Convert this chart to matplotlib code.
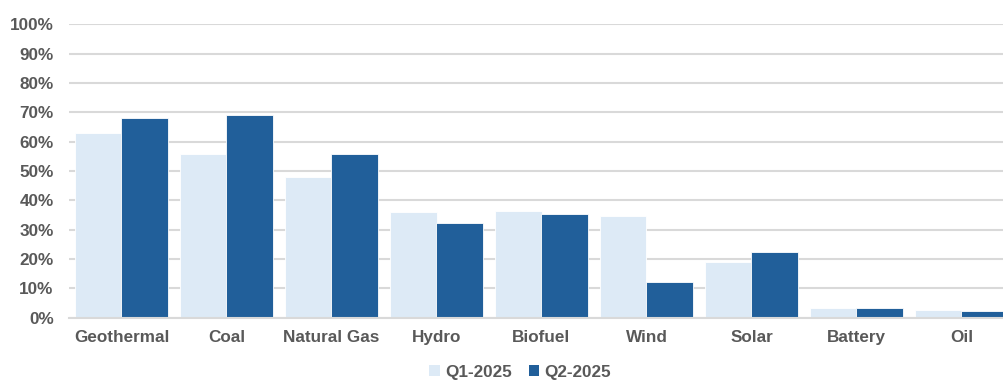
import matplotlib.pyplot as plt
from matplotlib.patches import Patch
from matplotlib.ticker import PercentFormatter
import numpy as np

categories = ['Geothermal', 'Coal', 'Natural Gas', 'Hydro', 'Biofuel',
              'Wind', 'Solar', 'Battery', 'Oil']
q1_2025 = [62.9, 55.7, 47.9, 35.9, 36.2, 34.7, 18.9, 3.3, 2.4]
q2_2025 = [68.0, 68.9, 55.7, 32.1, 35.3, 12.2, 22.4, 3.3, 2.2]
series_names = ['Q1-2025', 'Q2-2025']

light = '#DDEAF6'
dark = '#215F9A'
grey_txt = '#595959'
grid_c = '#D9D9D9'

plt.rcParams['font.family'] = ['Liberation Sans', 'DejaVu Sans']

fig = plt.figure(figsize=(10.04, 3.8), dpi=100)
# plot area runs a little past the right edge of the picture, as in the source
ax = fig.add_axes([69 / 1004, 62.5 / 380, 945 / 1004, (317.5 - 24.3) / 380])

x = np.arange(len(categories))
w = 0.443
ax.bar(x - w / 2, q1_2025, w, color=light, edgecolor='white', linewidth=0.6, zorder=3)
ax.bar(x + w / 2, q2_2025, w, color=dark, edgecolor='white', linewidth=0.6, zorder=3)

ax.set_xlim(-0.5, len(categories) - 0.5)
ax.set_ylim(0, 100)
ax.set_yticks(np.arange(0, 101, 10))
ax.yaxis.set_major_formatter(PercentFormatter(decimals=0))
ax.set_xticks(x)
ax.set_xticklabels(categories)

ax.grid(axis='y', color=grid_c, linewidth=1.5, zorder=0)
for s in ['top', 'right', 'left']:
    ax.spines[s].set_visible(False)
ax.spines['bottom'].set_color(grid_c)
ax.spines['bottom'].set_linewidth(1.5)
ax.spines['bottom'].set_zorder(4)

ax.tick_params(axis='both', length=0, colors=grey_txt, labelsize=12.3)
ax.tick_params(axis='y', pad=11)
ax.tick_params(axis='x', pad=9)
for lab in ax.get_xticklabels() + ax.get_yticklabels():
    lab.set_fontweight('bold')

handles = [Patch(facecolor=light), Patch(facecolor=dark)]
leg = fig.legend(handles, series_names, loc='center', bbox_to_anchor=(0.518, 0.02),
                 ncol=2, frameon=False, handlelength=0.6, handleheight=0.6,
                 handletextpad=0.3, columnspacing=1.0,
                 prop={'weight': 'bold', 'size': 12.3})
for t in leg.get_texts():
    t.set_color(grey_txt)

fig.savefig('out.png', dpi=100)
